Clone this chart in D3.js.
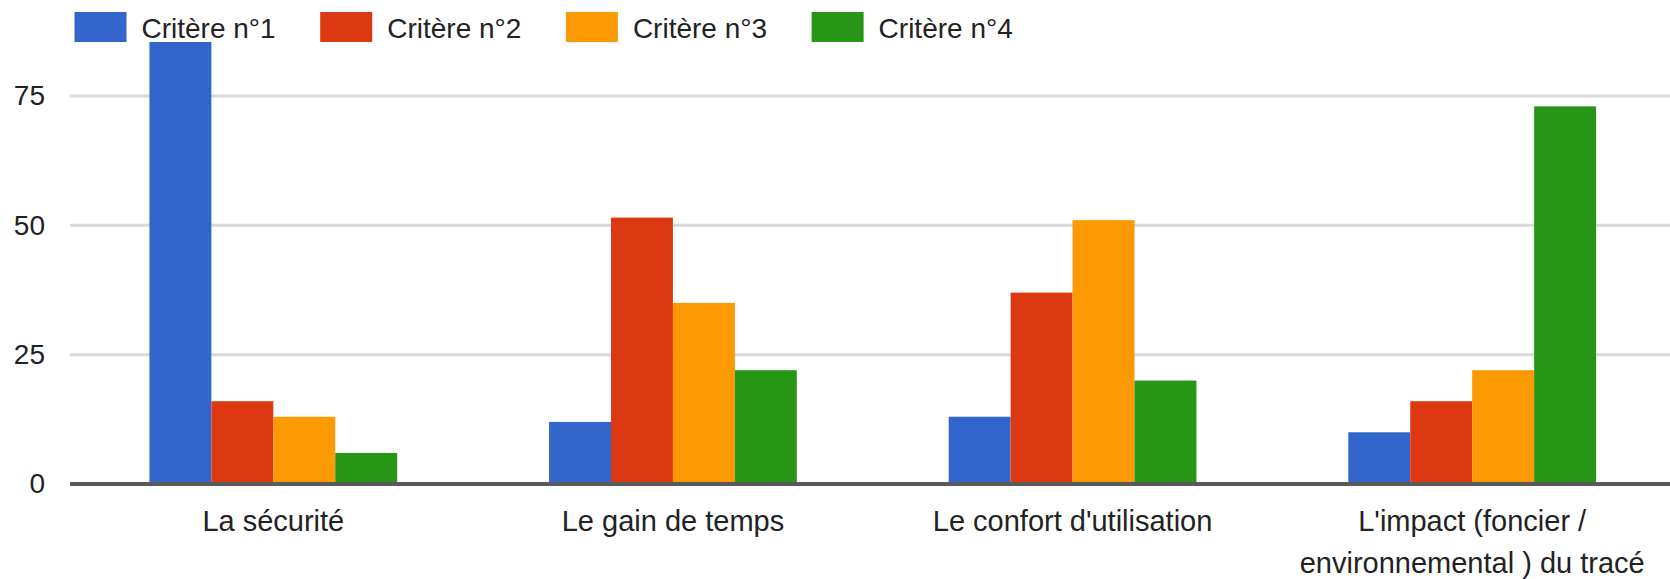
<!DOCTYPE html>
<html>
<head>
<meta charset="utf-8">
<script src="https://cdn.jsdelivr.net/npm/d3@7"></script>
<style>
    body { margin: 0; background: #fff; }
    text { font-family: "Liberation Sans", Arial, sans-serif; fill: #222; }
</style>
</head>
<body>
<div id="chart"></div>
<script>
// data
let categories = ["La sécurité", "Le gain de temps", "Le confort d'utilisation", "L'impact (foncier / environnemental ) du tracé"];
let seriesNames = ["Critère n°1", "Critère n°2", "Critère n°3", "Critère n°4"];
let critere1 = [86, 12, 13, 10];
let critere2 = [16, 51.5, 37, 16];
let critere3 = [13, 35, 51, 22];
let critere4 = [6, 22, 20, 73];
let yTicks = [0, 25, 50, 75];

let colors = ["#3366cc", "#dc3912", "#fd9a03", "#279616"];

let width = 1670, height = 579;
let margin = {top: 42, right: 0, bottom: 95, left: 70};

let svg = d3.select("#chart").append("svg")
    .attr("width", width)
    .attr("height", height);

let rows = categories.map((c, i) => ({
    cat: c,
    values: [critere1[i], critere2[i], critere3[i], critere4[i]]
}));

// scales
let x0 = d3.scaleBand()
    .domain(categories)
    .range([73.5, 1672])
    .paddingInner(0.38)
    .paddingOuter(0.19);

let x1 = d3.scaleBand()
    .domain(d3.range(seriesNames.length))
    .range([0, x0.bandwidth()]);

let y = d3.scaleLinear()
    .domain([0, 85.44])
    .range([484, margin.top]);

// clip so the tallest bar stops at the top of the plot
svg.append("clipPath").attr("id", "plotClip")
    .append("rect")
    .attr("x", margin.left)
    .attr("y", margin.top)
    .attr("width", width - margin.left)
    .attr("height", y(0) - margin.top);

// gridlines
svg.append("g")
    .selectAll("line")
    .data(yTicks.filter(d => d > 0))
    .join("line")
    .attr("x1", margin.left)
    .attr("x2", width)
    .attr("y1", d => y(d))
    .attr("y2", d => y(d))
    .attr("stroke", "#d9d9d9")
    .attr("stroke-width", 3);

// y axis labels
let yAxis = d3.axisLeft(y)
    .tickValues(yTicks)
    .tickSize(0)
    .tickPadding(0);

svg.append("g")
    .attr("transform", "translate(45,0)")
    .call(yAxis)
    .call(g => g.select(".domain").remove())
    .selectAll("text")
    .attr("font-size", 28)
    .attr("font-family", "Liberation Sans, Arial, sans-serif")
    .attr("fill", "#222");

// bars
svg.append("g")
    .attr("clip-path", "url(#plotClip)")
    .selectAll("g")
    .data(rows)
    .join("g")
    .attr("transform", d => `translate(${x0(d.cat)},0)`)
    .selectAll("rect")
    .data(d => d.values.map((v, i) => ({i: i, v: v})))
    .join("rect")
    .attr("x", d => x1(d.i))
    .attr("width", x1.bandwidth())
    .attr("y", d => y(d.v))
    .attr("height", d => y(0) - y(d.v))
    .attr("fill", d => colors[d.i]);

// baseline
svg.append("line")
    .attr("x1", margin.left)
    .attr("x2", width)
    .attr("y1", y(0))
    .attr("y2", y(0))
    .attr("stroke", "#595959")
    .attr("stroke-width", 4);

// x axis labels, wrapped when too long
let xAxis = d3.axisBottom(x0).tickSize(0).tickPadding(0);

let xGroup = svg.append("g")
    .attr("transform", `translate(0,${y(0)})`)
    .call(xAxis)
    .call(g => g.select(".domain").remove());

xGroup.selectAll("text")
    .attr("font-size", 29)
    .attr("font-family", "Liberation Sans, Arial, sans-serif")
    .attr("fill", "#222")
    .attr("dy", null)
    .attr("y", 47)
    .each(function(d) {
        let t = d3.select(this);
        let words = d.split(" ");
        let lines = [], line = [];
        t.text(null);
        let probe = t.append("tspan");
        words.forEach(w => {
            probe.text(line.concat(w).join(" "));
            if (probe.node().getComputedTextLength() > 400 && line.length) {
                lines.push(line.join(" "));
                line = [w];
            } else {
                line.push(w);
            }
        });
        lines.push(line.join(" "));
        probe.remove();
        lines.forEach((l, k) => {
            t.append("tspan")
                .attr("x", 0)
                .attr("dy", k === 0 ? 0 : 42)
                .text(l);
        });
    });

// legend
let legend = svg.append("g")
    .selectAll("g")
    .data(seriesNames)
    .join("g")
    .attr("transform", (d, i) => `translate(${74.5 + i * 245.7},0)`);

legend.append("rect")
    .attr("x", 0)
    .attr("y", 12)
    .attr("width", 52)
    .attr("height", 30)
    .attr("fill", (d, i) => colors[i]);

legend.append("text")
    .attr("x", 67)
    .attr("y", 38)
    .attr("font-size", 28)
    .text(d => d);
</script>
</body>
</html>
